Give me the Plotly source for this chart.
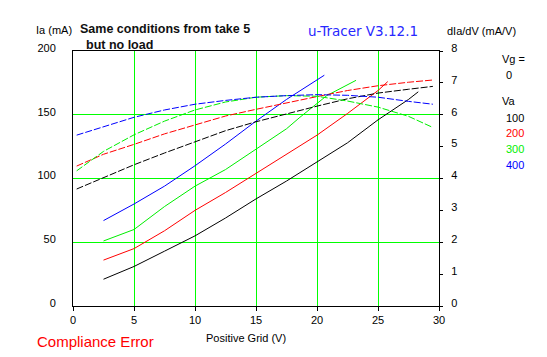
import plotly.graph_objects as go

# ---- data ----
ia_black_x = [2.5, 5, 7.5, 10, 12.5, 15, 17.5, 20, 22.5, 25, 27.5, 28.3]
ia_black_y = [21, 31, 43, 55, 69, 84, 98, 113, 128, 146, 162, 168]
ia_red_x = [2.5, 5, 7.5, 10, 12.5, 15, 17.5, 20, 22.5, 25, 25.8]
ia_red_y = [36, 45, 59, 75, 89, 104, 119, 134, 151, 169, 176]
ia_green_x = [2.5, 5, 7.5, 10, 12.5, 15, 17.5, 18.6, 20, 20.8, 23.2]
ia_green_y = [51, 60, 78, 94, 107, 123, 139, 148, 159, 165, 177]
ia_blue_x = [2.5, 5, 7.5, 10, 12.5, 15, 17.5, 20, 20.6]
ia_blue_y = [67, 80, 94, 110, 127, 145, 162, 177, 181]

g_x = [0.3, 2.5, 5, 7.5, 10, 12.5, 15, 17.5, 20, 22.5, 25, 27.5, 29.5]
g_black = [3.67, 4.03, 4.43, 4.8, 5.15, 5.5, 5.78, 6.03, 6.27, 6.5, 6.68, 6.8, 6.89]
g_red = [4.39, 4.76, 5.07, 5.4, 5.68, 5.96, 6.17, 6.38, 6.57, 6.76, 6.91, 7.02, 7.09]
g_green = [4.24, 4.85, 5.37, 5.8, 6.15, 6.4, 6.55, 6.6, 6.58, 6.43, 6.24, 5.95, 5.6]
g_blue = [5.36, 5.62, 5.92, 6.15, 6.33, 6.45, 6.55, 6.6, 6.63, 6.61, 6.55, 6.42, 6.33]

x_ticks = [0, 5, 10, 15, 20, 25, 30]
ia_ticks = [0, 50, 100, 150, 200]
g_ticks = [0, 1, 2, 3, 4, 5, 6, 7, 8]
va_labels = ["100", "200", "300", "400"]
colors = ["#000000", "#ff0000", "#00ee00", "#0000ff"]

GRID = "#00ff00"
FONT = "Liberation Sans"

fig = go.Figure()
ia_sets = [(ia_black_x, ia_black_y), (ia_red_x, ia_red_y), (ia_green_x, ia_green_y), (ia_blue_x, ia_blue_y)]
g_sets = [g_black, g_red, g_green, g_blue]
for (xs, ys), c in zip(ia_sets, colors):
    fig.add_trace(go.Scatter(x=xs, y=ys, mode="lines", line=dict(color=c, width=1), yaxis="y", showlegend=False))
for gs, c in zip(g_sets, colors):
    fig.add_trace(go.Scatter(x=g_x, y=gs, mode="lines", line=dict(color=c, width=1, dash="7px,2px"), yaxis="y2", showlegend=False))

# page body has an 8px default margin: compensate
OFF = 8
W, H = 547 - OFF, 357 - OFF
L, R, T, B = 73 - OFF, 439 - OFF, 51 - OFF, 306 - OFF

def px(xp):
    return (xp - OFF - L) / (R - L)

def py(yp):
    return (B - (yp - OFF)) / (B - T)

ann = []
def text(s, x, y, size=11, color="black", bold=False, family=FONT, xanchor="left"):
    if bold:
        s = "<b>" + s + "</b>"
    ann.append(dict(text=s, x=px(x), y=py(y), xref="paper", yref="paper", showarrow=False,
                    xanchor=xanchor, yanchor="middle", font=dict(size=size, color=color, family=family)))

text("Ia (mA)", 34, 30)
text("Same conditions from take 5", 78, 29, size=12.5, color="#111111", bold=True)
text("but no load", 84, 45, size=12.5, color="#111111", bold=True)
text("u-Tracer V3.12.1", 306, 31, size=13.5, color="#2828ff", family="DejaVu Sans")
text("dIa/dV (mA/V)", 445, 31)
text("Vg =", 500, 59)
text("0", 504, 75)
text("Va", 500, 101)
for i, (lab, c) in enumerate(zip(va_labels, colors)):
    text(lab, 504, 118 + i * 15.5, color=c)
text("Positive Grid (V)", 246, 338, xanchor="center")
text("Compliance Error", 35, 341, size=15, color="#ff0000")

fig.update_layout(
    width=W, height=H, autosize=False,
    margin=dict(l=L, r=W - R, t=T, b=H - B, pad=0),
    paper_bgcolor="white", plot_bgcolor="white",
    font=dict(family=FONT, size=11, color="black"),
    xaxis=dict(range=[0, 30], tickvals=x_ticks, ticktext=[str(v) for v in x_ticks],
               showgrid=True, gridcolor=GRID, gridwidth=1, zeroline=False,
               showline=True, linecolor="black", linewidth=1, mirror=True,
               ticks="outside", ticklen=4, tickcolor="black", tickfont=dict(size=11, family=FONT)),
    yaxis=dict(range=[0, 200], tickvals=ia_ticks, ticktext=[str(v) for v in ia_ticks],
               showgrid=True, gridcolor=GRID, gridwidth=1, zeroline=False,
               showline=True, linecolor="black", linewidth=1, mirror=True,
               ticks="", ticklabelstandoff=14, ticklabelshift=-3, tickfont=dict(size=11, family=FONT)),
    yaxis2=dict(range=[0, 8], tickvals=g_ticks, ticktext=[str(v) for v in g_ticks],
                overlaying="y", side="right", showgrid=False, zeroline=False, showline=False,
                ticks="outside", ticklen=3, tickcolor="black", ticklabelstandoff=6, ticklabelshift=-3,
                tickfont=dict(size=11, family=FONT)),
    annotations=ann,
)

fig.write_html("out.html")
